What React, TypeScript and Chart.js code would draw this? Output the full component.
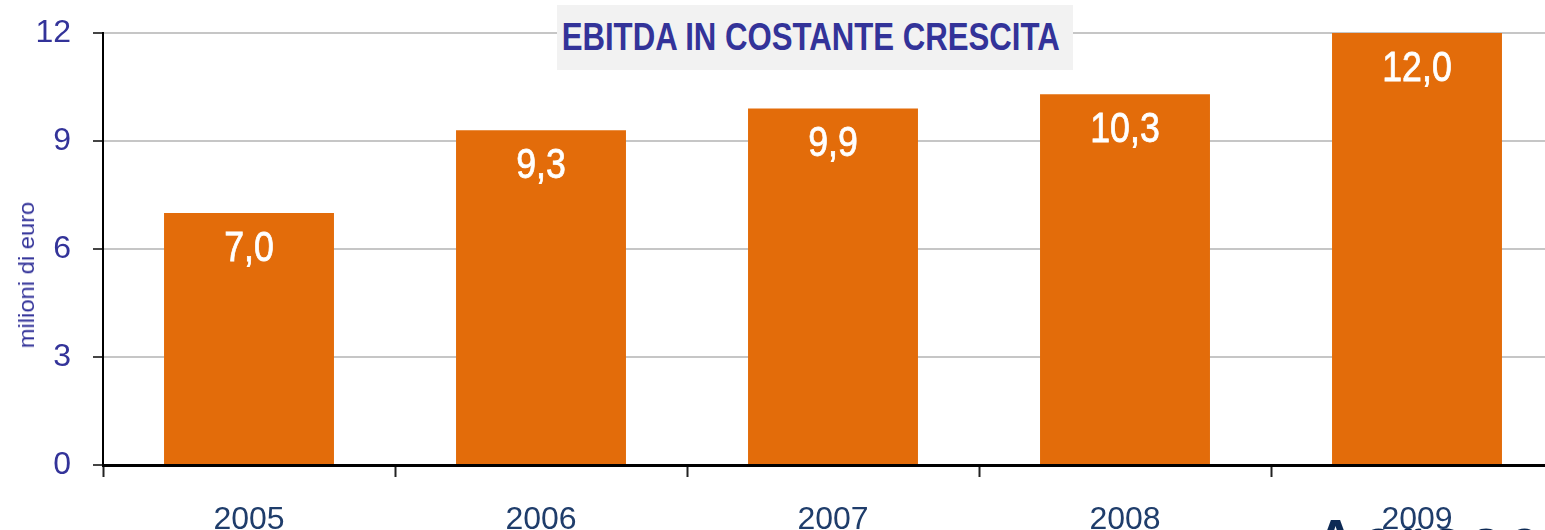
import React, { useEffect, useRef } from "react";
import { Chart, registerables } from "chart.js";

Chart.register(...registerables);

const categories = ["2005", "2006", "2007", "2008", "2009"];
const ebitdaValues = [7.0, 9.3, 9.9, 10.3, 12.0];
const yTicks = [0, 3, 6, 9, 12];
const titleText = "EBITDA IN COSTANTE CRESCITA";
const yAxisTitle = "milioni di euro";

const SANS = '"Liberation Sans", Arial, sans-serif';

export default function App() {
  const canvasRef = useRef<HTMLCanvasElement | null>(null);

  useEffect(() => {
    document.body.style.margin = "0";
    document.body.style.overflow = "hidden";
    const canvas = canvasRef.current;
    if (!canvas) return;

    const valueLabels = {
      id: "valueLabels",
      afterDatasetsDraw(chart: any) {
        const ctx = chart.ctx;
        const meta = chart.getDatasetMeta(0);
        meta.data.forEach((bar: any, i: number) => {
          const v = ebitdaValues[i];
          ctx.save();
          ctx.fillStyle = "#ffffff";
          ctx.strokeStyle = "#ffffff";
          ctx.lineWidth = 0.8;
          ctx.font = `42px ${SANS}`;
          ctx.textAlign = "center";
          ctx.textBaseline = "middle";
          ctx.translate(bar.x, bar.y + 36);
          ctx.scale(0.85, 1);
          const t = v.toFixed(1).replace(".", ",");
          ctx.fillText(t, 0, 0);
          ctx.strokeText(t, 0, 0);
          ctx.restore();
        });
      },
    };

    const chart = new Chart(canvas, {
      type: "bar",
      data: {
        labels: categories,
        datasets: [
          {
            data: ebitdaValues,
            backgroundColor: "#E36C0A",
            borderWidth: 0,
            barPercentage: 0.582,
            categoryPercentage: 1,
          },
        ],
      },
      options: {
        animation: false,
        responsive: false,
        maintainAspectRatio: false,
        layout: { padding: { top: 33, left: 0, right: 0, bottom: 0 } },
        plugins: {
          legend: { display: false },
          tooltip: { enabled: false },
          title: { display: false },
        },
        scales: {
          x: {
            grid: {
              offset: true,
              drawOnChartArea: false,
              drawTicks: true,
              tickLength: 12,
              tickColor: "#222222",
              tickWidth: 2,
            },
            border: { display: true, color: "#000000", width: 3 },
            ticks: {
              color: "#1F3D6B",
              font: { family: SANS, size: 32 },
              padding: 24,
              maxRotation: 0,
            },
            afterFit(scale: any) {
              scale.height = 65;
              scale.paddingLeft = 0;
              scale.paddingRight = 0;
            },
          },
          y: {
            min: 0,
            max: 12,
            afterBuildTicks(scale: any) {
              scale.ticks = yTicks.map((v) => ({ value: v }));
            },
            grid: {
              color: "#c6c6c6",
              lineWidth: 2,
              tickLength: 10,
              tickColor: "#444444",
              tickWidth: 2,
            },
            border: { display: true, color: "#000000", width: 2 },
            ticks: {
              color: "#333399",
              font: { family: SANS, size: 32 },
              padding: 22,
            },
            afterFit(scale: any) {
              scale.width = 103;
              scale.paddingTop = 0;
              scale.paddingBottom = 0;
            },
          },
        },
      },
      plugins: [valueLabels],
    });

    return () => chart.destroy();
  }, []);

  return (
    <div style={{ position: "absolute", left: 0, top: 0, width: 1563, height: 530, overflow: "hidden", background: "#ffffff" }}>
      <div
        style={{
          position: "absolute",
          left: 1316,
          top: 511,
          fontFamily: SANS,
          fontWeight: "bold",
          fontSize: 54,
          color: "#0d2a55",
          letterSpacing: 8,
          whiteSpace: "nowrap",
          lineHeight: "54px",
        }}
      >
        AeroseAe
      </div>
      <canvas ref={canvasRef} width={1563} height={530} style={{ position: "absolute", left: 0, top: 0 }} />
      <div
        style={{
          position: "absolute",
          left: 557,
          top: 5,
          width: 516,
          height: 65,
          background: "#f2f2f2",
          display: "flex",
          alignItems: "center",
          justifyContent: "center",
        }}
      >
        <span
          style={{
            display: "inline-block",
            fontFamily: SANS,
            fontWeight: "bold",
            fontSize: 38,
            color: "#333399",
            whiteSpace: "nowrap",
            transform: "scaleX(0.82)",
            transformOrigin: "center",
            marginLeft: -8,
          }}
        >
          {titleText}
        </span>
      </div>
      <div
        style={{
          position: "absolute",
          left: 27,
          top: 275,
          width: 0,
          height: 0,
        }}
      >
        <div
          style={{
            position: "absolute",
            left: 0,
            top: 0,
            transform: "translate(-50%, -50%) rotate(-90deg) scaleX(1.08)",
            fontFamily: SANS,
            fontSize: 22,
            color: "#333399",
            whiteSpace: "nowrap",
            lineHeight: "22px",
          }}
        >
          {yAxisTitle}
        </div>
      </div>
    </div>
  );
}
